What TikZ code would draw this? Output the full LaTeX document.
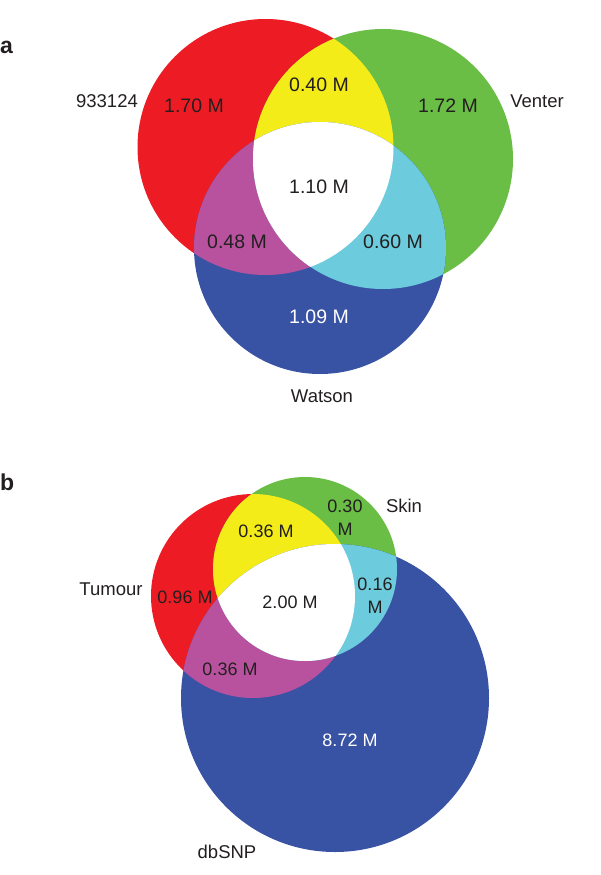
\documentclass[tikz,border=0pt]{standalone}
\usepackage{fontspec}
\setmainfont{Liberation Sans}
\usepackage{tikz}

\definecolor{vred}{RGB}{237,28,36}
\definecolor{vgreen}{RGB}{106,189,69}
\definecolor{vblue}{RGB}{57,83,164}
\definecolor{vyellow}{RGB}{243,236,25}
\definecolor{vmagenta}{RGB}{184,82,158}
\definecolor{vcyan}{RGB}{108,203,220}
\definecolor{vtext}{RGB}{35,31,32}

\begin{document}
\begin{tikzpicture}[
    x=1pt, y=-1pt,
    every node/.style={inner sep=0pt, text=vtext},
    count/.style={anchor=base, font=\fontsize{19.5}{23}\selectfont},
    small count/.style={anchor=base, font=\fontsize{18}{23}\selectfont},
    setlabel/.style={anchor=base, font=\fontsize{18.5}{22}\selectfont},
    panel/.style={anchor=base west, font=\fontsize{23}{26}\selectfont\bfseries},
    on blue/.style={text=white}
]
\useasboundingbox (0,0) rectangle (600,875);

% ---------------- PANEL A ----------------
\coordinate (PAT) at (265.5,147);
\coordinate (VEN) at (383,159);
\coordinate (WAT) at (320,248);

\fill[vred]   (PAT) circle[radius=128pt];
\fill[vgreen] (VEN) circle[radius=130pt];
\fill[vblue]  (WAT) circle[radius=126pt];
\begin{scope}
    \clip (PAT) circle[radius=128pt];
    \fill[vyellow]  (VEN) circle[radius=130pt];
    \fill[vmagenta] (WAT) circle[radius=126pt];
\end{scope}
\begin{scope}
    \clip (VEN) circle[radius=130pt];
    \fill[vcyan] (WAT) circle[radius=126pt];
    \clip (PAT) circle[radius=128pt];
    \fill[white] (WAT) circle[radius=126pt];
\end{scope}

\node[panel]          (labA)   at (0,53)    {a};
\node[setlabel]       (namPAT) at (107,107) {933124};
\node[setlabel]       (namVEN) at (537,107) {Venter};
\node[setlabel]       (namWAT) at (322,402) {Watson};
\node[count]          (onlyP)  at (194,112) {1.70 M};
\node[count]          (PV)     at (319,91)  {0.40 M};
\node[count]          (onlyV)  at (448,112) {1.72 M};
\node[count]          (PVW)    at (319,193) {1.10 M};
\node[count]          (PW)     at (237,248) {0.48 M};
\node[count]          (VW)     at (393,248) {0.60 M};
\node[count, on blue] (onlyW)  at (319,323) {1.09 M};

% ---------------- PANEL B ----------------
\coordinate (TUM) at (253,596);
\coordinate (SKN) at (305,569);
\coordinate (DBS) at (335,698);

\fill[vred]   (TUM) circle[radius=102pt];
\fill[vgreen] (SKN) circle[radius=92pt];
\fill[vblue]  (DBS) circle[radius=154pt];
\begin{scope}
    \clip (TUM) circle[radius=102pt];
    \fill[vyellow]  (SKN) circle[radius=92pt];
    \fill[vmagenta] (DBS) circle[radius=154pt];
\end{scope}
\begin{scope}
    \clip (SKN) circle[radius=92pt];
    \fill[vcyan] (DBS) circle[radius=154pt];
    \clip (TUM) circle[radius=102pt];
    \fill[white] (DBS) circle[radius=154pt];
\end{scope}

\node[panel]                (labB)   at (0,490)   {b};
\node[setlabel]             (namTUM) at (111,595) {Tumour};
\node[setlabel]             (namSKN) at (404,512) {Skin};
\node[setlabel]             (namDBS) at (227,858) {dbSNP};
\node[small count]          (onlyT)  at (185,603) {0.96 M};
\node[small count]          (TS)     at (266,537) {0.36 M};
\node[small count]          (onlyS)  at (345,512) {\begin{tabular}[t]{@{}c@{}}0.30\\M\end{tabular}};
\node[small count]          (TSD)    at (290,608) {2.00 M};
\node[small count]          (SD)     at (375,590) {\begin{tabular}[t]{@{}c@{}}0.16\\M\end{tabular}};
\node[small count]          (TD)     at (230,675) {0.36 M};
\node[small count, on blue] (onlyD)  at (350,746) {8.72 M};

\end{tikzpicture}
\end{document}
